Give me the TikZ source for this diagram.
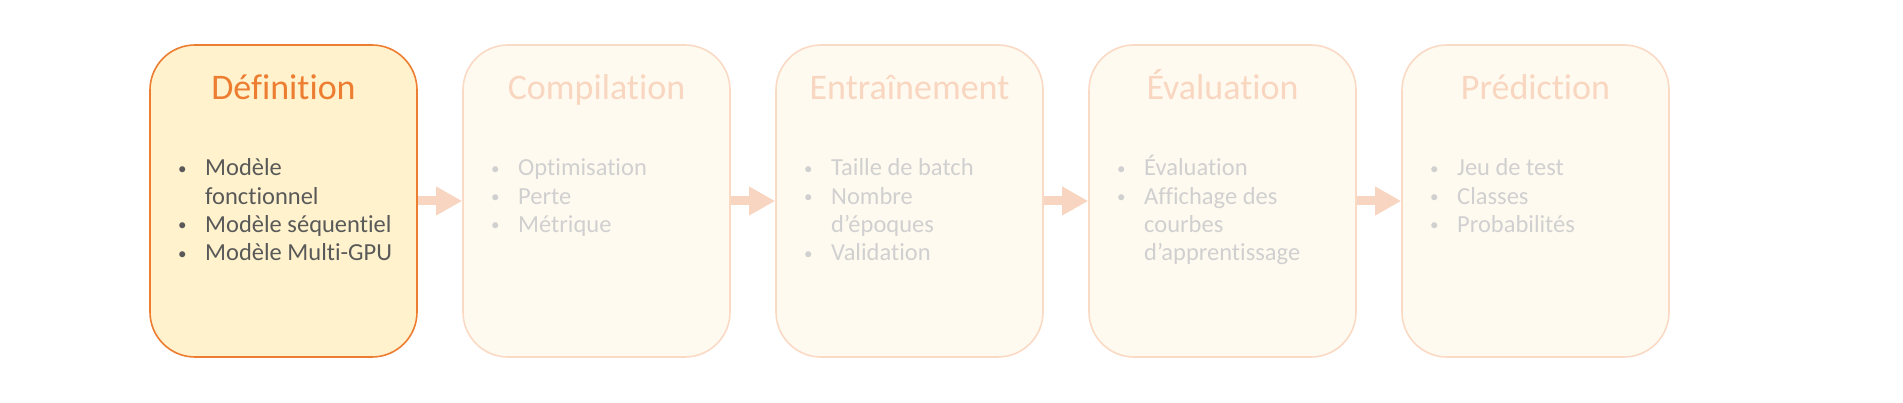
\documentclass[tikz,border=0pt]{standalone}
\usepackage{fontspec}
\setmainfont{Carlito}[Ligatures=NoCommon]
\usetikzlibrary{arrows.meta}
\definecolor{actfill}{HTML}{FFF2CC}
\definecolor{actline}{HTML}{ED7D31}
\definecolor{acttext}{HTML}{595959}
\definecolor{inafill}{HTML}{FFFAF0}
\definecolor{inaline}{HTML}{FADAC5}
\definecolor{inatitle}{HTML}{F9D6C0}
\definecolor{inatext}{HTML}{D0D0D0}
\definecolor{arrowcol}{HTML}{F8D5C0}
\newcommand\blist[1]{\begin{tabular}[t]{@{}p{19pt}@{\hspace{8pt}}l@{}}#1\end{tabular}}
\newcommand\bul{\raisebox{1.8pt}{\fontsize{17}{17}\selectfont\textbullet}}
\tikzset{
 stagebox/.style={draw, line width=1.6pt, rounded corners=45pt, minimum width=267pt, minimum height=312pt, inner sep=0pt},
 activebox/.style={stagebox, fill=actfill, draw=actline},
 inactivebox/.style={stagebox, fill=inafill, draw=inaline},
 stagetitle/.style={anchor=base, font=\fontsize{36}{40}\selectfont, inner sep=0pt},
 stagelist/.style={anchor=base west, font=\fontsize{24.5}{28.3}\selectfont, inner sep=0pt},
 flow/.style={draw=arrowcol, line width=9pt, -{Triangle[width=27pt,length=26pt]}},
}
\begin{document}
\begin{tikzpicture}[x=1pt,y=1pt]
\useasboundingbox (0,0) rectangle (1903,403);
\node[activebox] (b1) at (283.5,202) {};
\node[inactivebox] (b2) at (596.5,202) {};
\node[inactivebox] (b3) at (909.5,202) {};
\node[inactivebox] (b4) at (1222.5,202) {};
\node[inactivebox] (b5) at (1535.5,202) {};
\draw[flow] (b1.east) -- (b2.west);
\draw[flow] (b2.east) -- (b3.west);
\draw[flow] (b3.east) -- (b4.west);
\draw[flow] (b4.east) -- (b5.west);
\node[stagetitle, text=actline] (t1) at (283.5,303) {Définition};
\node[stagetitle, text=inatitle] (t2) at (596.5,303) {Compilation};
\node[stagetitle, text=inatitle] (t3) at (909.5,303) {Entraînement};
\node[stagetitle, text=inatitle] (t4) at (1222.5,303) {Évaluation};
\node[stagetitle, text=inatitle] (t5) at (1535.5,303) {Prédiction};
\node[stagelist, text=acttext] (l1) at (178,227) {\blist{\bul & Modèle\\ & fonctionnel\\ \bul & Modèle séquentiel\\ \bul & Modèle Multi-GPU}};
\node[stagelist, text=inatext] (l2) at (491,227) {\blist{\bul & Optimisation\\ \bul & Perte\\ \bul & Métrique}};
\node[stagelist, text=inatext] (l3) at (804,227) {\blist{\bul & Taille de batch\\ \bul & Nombre\\ & d’époques\\ \bul & Validation}};
\node[stagelist, text=inatext] (l4) at (1117,227) {\blist{\bul & Évaluation\\ \bul & Affichage des\\ & courbes\\ & d’apprentissage}};
\node[stagelist, text=inatext] (l5) at (1430,227) {\blist{\bul & Jeu de test\\ \bul & Classes\\ \bul & Probabilités}};
\end{tikzpicture}
\end{document}
